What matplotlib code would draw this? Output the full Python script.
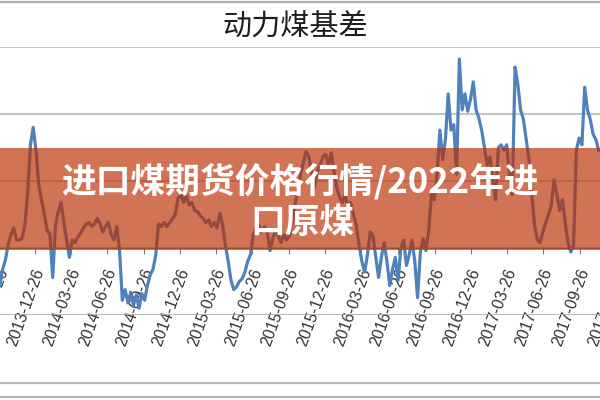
import matplotlib
matplotlib.use('Agg')
import matplotlib.pyplot as plt
import matplotlib.transforms as mtransforms
from matplotlib.patches import Rectangle
from matplotlib.lines import Line2D
import pandas as pd

plt.rcParams['font.family'] = ['Noto Sans CJK SC', 'DejaVu Sans']

title = '动力煤基差'
banner_line1 = '进口煤期货价格行情/2022年进'
banner_line2 = '口原煤'

start_date = '2013-09-29'
basis = [
    -28, -16, -9, 2, 10, 15, 6, 6, 7, 17,
    40, 77, 90, 73, 47, 36, 25, 13, 10, -22,
    17, 27, 34, 19, 6, -7, 6, 4, 8, 11,
    15, 18, 19, 16, 18, 22, 18, 12, 16, 19,
    10, 6, 16, -2, -39, -31, -41, -33, -43, -35,
    -45, -34, -39, -28, -20, -16, -5, 18, 16, 19,
    16, 19, 22, 25, 37, 40, 34, 39, 32, 34,
    28, 27, 24, 22, 19, 21, 16, 19, 15, 26,
    17, 2, -10, -24, -31, -29, -25, -23, -18, -10,
    -5, 10, 15, 17, 12, 16, 12, -2, 7, 13,
    9, 4, 10, 6, 9, 19, 32, 43, 55, 64,
    72, 68, 55, 45, 57, 62, 68, 70, 62, 71,
    57, 45, 38, 34, 40, 30, 34, 25, 17, 2,
    -10, -18, -5, 12, 9, -7, -22, -7, 4, -10,
    -28, -16, -7, -24, 0, 6, -13, -5, 6, -10,
    -37, -3, 7, -2, 13, 40, 36, 55, 88, 66,
    81, 115, 88, 92, 55, 141, 103, 115, 102, 111,
    124, 103, 97, 88, 75, 62, 68, 52, 36, 75,
    77, 73, 77, 55, 40, 135, 122, 103, 96, 81,
    66, 40, 17, 6, 4, 12, 19, 25, 32, 51,
    40, 28, 36, 19, 4, -3, 2, 73, 82, 77,
    120, 103, 96, 85, 81, 73,
]
tick_dates = [
    '2013-09-26', '2013-12-26', '2014-03-26', '2014-06-26', '2014-09-26',
    '2014-12-26', '2015-03-26', '2015-06-26', '2015-09-26', '2015-12-26',
    '2016-03-26', '2016-06-26', '2016-09-26', '2016-12-26', '2017-03-26',
    '2017-06-26', '2017-09-26', '2017-12-26',
]
y_ticks = [-50, 0, 50, 100, 150]

dates = pd.date_range(start_date, periods=len(basis), freq='7D')

fig = plt.figure(figsize=(6, 4), dpi=100)
ax = fig.add_axes([-40 / 600, 85 / 400, 680 / 600, 268 / 400])
ax.plot(dates, basis, color='#4F81BD', lw=2.3, solid_joinstyle='round', zorder=3)
ax.set_xlim(pd.Timestamp('2013-06-21'), pd.Timestamp('2018-02-24'))
ax.set_ylim(-50, 150)
ax.set_yticks(y_ticks)
ax.yaxis.grid(True, color='#B4B4B4', lw=1.1)
ax.axhline(-50, color='#8C8C8C', lw=1.0, zorder=2)
ax.tick_params(axis='y', left=False, labelleft=False)
for s in ['left', 'right', 'top']:
    ax.spines[s].set_visible(False)
ax.spines['bottom'].set_position(('data', 0))
ax.spines['bottom'].set_color('#808080')
ax.spines['bottom'].set_zorder(4)
ax.set_xticks(pd.to_datetime(tick_dates))
ax.set_xticklabels(tick_dates, rotation=70, ha='right', va='center',
                   rotation_mode='anchor', family='Liberation Sans',
                   fontsize=11.5, color='#333333')
ax.tick_params(axis='x', length=4, color='#808080', pad=11)
offset = mtransforms.ScaledTranslation(5 / 100, 0, fig.dpi_scale_trans)
for lbl in ax.get_xticklabels():
    lbl.set_transform(lbl.get_transform() + offset)

# frame lines of the screenshot
for yy, c in [(0.995, '#B0B0B0'), (0.0425, '#B8B8B8'), (0.0075, '#B8B8B8')]:
    fig.add_artist(Line2D([0, 1], [yy, yy], transform=fig.transFigure,
                          color=c, lw=1.6, zorder=1))

fig.text(295 / 600, 1 - 28 / 400, title, fontsize=21, color='#1E1E1E',
         ha='center', va='center')

fig.add_artist(Rectangle((0, 150 / 400), 1, 102 / 400, transform=fig.transFigure,
                         facecolor=(186 / 255, 47 / 255, 1 / 255), alpha=0.665,
                         edgecolor='none', zorder=5))
fig.text(300 / 600, 1 - 181 / 400, banner_line1, ha='center', va='center',
         color='white', fontsize=25, fontweight='bold', zorder=6)
fig.text(302 / 600, 1 - 223 / 400, banner_line2, ha='center', va='center',
         color='white', fontsize=25, fontweight='bold', zorder=6)

fig.savefig('out.png', dpi=100)
